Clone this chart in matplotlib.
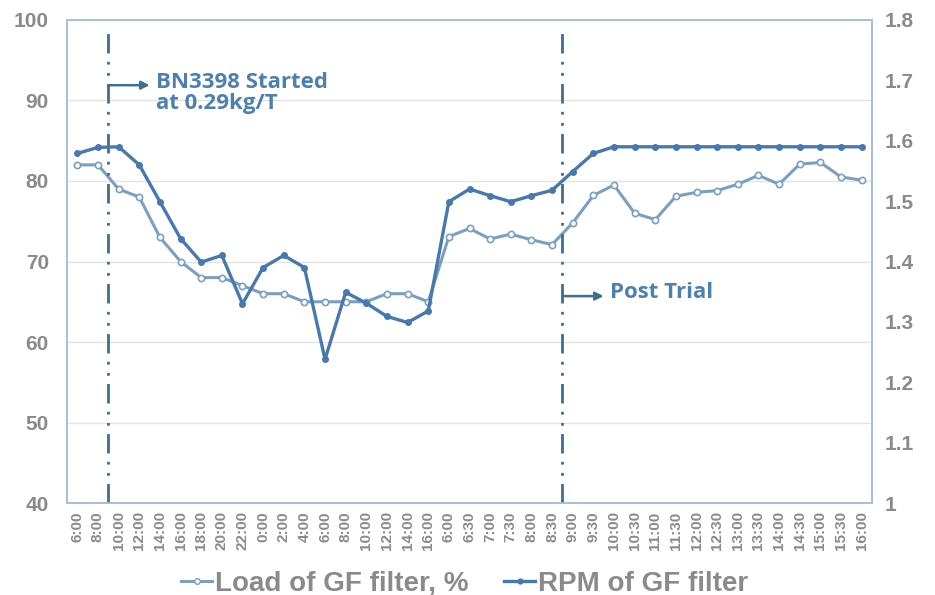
import matplotlib
matplotlib.use("Agg")
import matplotlib.pyplot as plt
import numpy as np
from matplotlib.lines import Line2D

LOAD_COLOR = "#7c9fbd"
RPM_COLOR = "#4a78a8"
MARKER_LINE = "#3f6f8c"
TEXT_BLUE = "#4f7fab"
TICK_GREY = "#8a8a8a"
SPINE_COLOR = "#a8bfd3"

time_labels = [
    "6:00", "8:00", "10:00", "12:00", "14:00", "16:00", "18:00", "20:00", "22:00",
    "0:00", "2:00", "4:00", "6:00", "8:00", "10:00", "12:00", "14:00", "16:00",
    "6:00", "6:30", "7:00", "7:30", "8:00", "8:30", "9:00", "9:30", "10:00",
    "10:30", "11:00", "11:30", "12:00", "12:30", "13:00", "13:30", "14:00",
    "14:30", "15:00", "15:30", "16:00",
]

load_pct = [
    82.0, 82.0, 79.0, 78.0, 73.0, 70.0, 68.0, 68.0, 67.0, 66.0, 66.0, 65.0, 65.0,
    65.0, 65.0, 66.0, 66.0, 65.0, 73.1, 74.1, 72.8, 73.4, 72.7, 72.1, 74.8, 78.2,
    79.5, 76.0, 75.2, 78.1, 78.6, 78.8, 79.6, 80.7, 79.6, 82.1, 82.3, 80.5, 80.1,
]

rpm = [
    1.579, 1.589, 1.590, 1.560, 1.499, 1.438, 1.399, 1.410, 1.330, 1.390, 1.410,
    1.390, 1.238, 1.349, 1.331, 1.309, 1.299, 1.318, 1.499, 1.520, 1.509, 1.499,
    1.509, 1.518, 1.549, 1.579, 1.590, 1.590, 1.590, 1.590, 1.590, 1.590, 1.590,
    1.590, 1.590, 1.590, 1.590, 1.590, 1.590,
]

# event markers sit between categories
event_pos = [1.5, 23.5]
event_text = ["BN3398 Started\nat 0.29kg/T", "Post Trial"]
event_arrow_y = [91.9, 65.7]
event_text_y = [90.9, 66.2]

x = np.arange(len(time_labels))

fig = plt.figure(figsize=(9.35, 5.95), dpi=100)
ax = fig.add_axes([0.0717, 0.1546, 0.8609, 0.8118])
ax2 = ax.twinx()

ax.set_xlim(-0.5, len(x) - 0.5)
ax.set_ylim(40, 100)
ax2.set_ylim(1.0, 1.8)

ax.set_yticks(np.arange(40, 101, 10))
ax2.set_yticks(np.arange(1.0, 1.81, 0.1))
ax2.set_yticklabels(["1"] + [f"{v:.1f}" for v in np.arange(1.1, 1.81, 0.1)])

ax.grid(axis="y", color="#e3e3e3", linewidth=1)
ax.set_axisbelow(True)

ax.plot(x, load_pct, color=LOAD_COLOR, linewidth=2.2, marker="o", markersize=4.5,
        markerfacecolor="white", markeredgecolor=LOAD_COLOR, markeredgewidth=1.2, zorder=3)
ax2.plot(x, rpm, color=RPM_COLOR, linewidth=2.4, marker="o", markersize=4,
         markerfacecolor=RPM_COLOR, markeredgecolor=RPM_COLOR, zorder=3)

ax.set_xticks(x)
ax.set_xticklabels(time_labels, rotation=90, fontsize=11, fontweight="bold",
                   color=TICK_GREY, family="Liberation Sans")
for a in (ax, ax2):
    a.tick_params(length=0)
    for s in a.spines.values():
        s.set_color(SPINE_COLOR)
        s.set_linewidth(1.2)
for lbl in ax.get_yticklabels() + ax2.get_yticklabels():
    lbl.set_fontsize(15)
    lbl.set_fontweight("bold")
    lbl.set_color(TICK_GREY)
    lbl.set_family("Liberation Sans")
ax.tick_params(axis="y", pad=13)
ax2.tick_params(axis="y", pad=9)
ax.tick_params(axis="x", pad=6)

for pos, txt, ay, ty in zip(event_pos, event_text, event_arrow_y, event_text_y):
    ax.plot([pos, pos], [40, 98.8], color=MARKER_LINE, linewidth=2,
            linestyle=(0, (7, 3, 1, 3, 1, 3)), zorder=4)
    ax.annotate("", xy=(pos + 2.0, ay), xytext=(pos, ay),
                arrowprops=dict(arrowstyle="-|>", color=MARKER_LINE, lw=1.8,
                                mutation_scale=12, shrinkA=0, shrinkB=0), zorder=5)
    ax.text(pos + 2.3, ty, txt,
            ha="left", va="center", fontsize=16, fontweight="bold",
            color=TEXT_BLUE, family="Open Sans", linespacing=1.0, zorder=5)

handles = [
    Line2D([], [], color=LOAD_COLOR, linewidth=2.2, marker="o", markersize=4,
           markerfacecolor="white", markeredgecolor=LOAD_COLOR),
    Line2D([], [], color=RPM_COLOR, linewidth=2.4, marker="o", markersize=3.5,
           markerfacecolor=RPM_COLOR),
]
leg = fig.legend(handles, ["Load of GF filter, %", "RPM of GF filter"],
                 loc="lower center", bbox_to_anchor=(0.497, -0.045), ncol=2,
                 frameon=False, handlelength=1.1, handletextpad=0.1, columnspacing=1.3,
                 prop=dict(family="Liberation Sans", weight="bold", size=20))
for t in leg.get_texts():
    t.set_color(TICK_GREY)

fig.savefig("out.png", dpi=100)
